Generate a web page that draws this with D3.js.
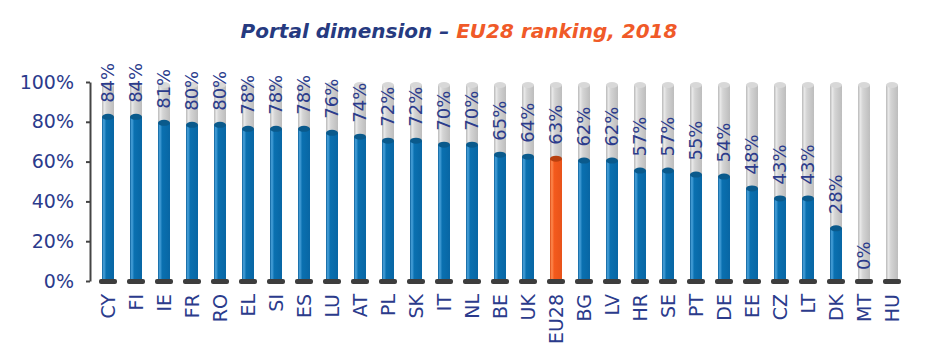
<!DOCTYPE html>
<html><head><meta charset="utf-8">
<script src="https://cdn.jsdelivr.net/npm/d3@7"></script>
<style>body{margin:0;background:#fff}svg{display:block}</style>
</head><body>
<script>
const categories = ["CY","FI","IE","FR","RO","EL","SI","ES","LU","AT","PL","SK","IT","NL","BE","UK","EU28","BG","LV","HR","SE","PT","DE","EE","CZ","LT","DK","MT","HU"];
const values = [84,84,81,80,80,78,78,78,76,74,72,72,70,70,65,64,63,62,62,57,57,55,54,48,43,43,28,0,null];
const yTicks = [0,20,40,60,80,100];
const highlight = "EU28";

const W = 927, H = 358;
const svg = d3.select("body").append("svg").attr("width", W).attr("height", H);
const defs = svg.append("defs");
function grad(id, stops){
  const g = defs.append("linearGradient").attr("id", id).attr("x1","0%").attr("x2","100%").attr("y1","0%").attr("y2","0%");
  stops.forEach(s => g.append("stop").attr("offset", s[0]).attr("stop-color", s[1]));
}
grad("gGray", [["0%","#b8b8b8"],["20%","#e8e8e8"],["40%","#d4d4d4"],["100%","#bdbdbd"]]);
grad("gBlue", [["0%","#0b5f99"],["15%","#4aa3dc"],["35%","#0a70b0"],["100%","#0866a4"]]);
grad("gOrange", [["0%","#d84c14"],["15%","#ff8a50"],["35%","#f45a1c"],["100%","#e8531a"]]);

const y = d3.scaleLinear().domain([0,100]).range([281,82]);
const x = d3.scalePoint().domain(categories).range([108, 108 + 28*(categories.length-1)]);
const bw = 12, eh = 6;

// title
const title = svg.append("text").attr("x", 459).attr("y", 38).attr("text-anchor","middle")
  .style("font-family","DejaVu Sans").style("font-weight","bold").style("font-style","italic").style("font-size","20px");
title.append("tspan").attr("fill","#263a80").text("Portal dimension – ");
title.append("tspan").attr("fill","#f05a28").text("EU28 ranking, 2018");

// y axis
const ax = svg.append("g").attr("transform","translate(90,0)")
  .call(d3.axisLeft(y).tickValues(yTicks).tickSize(4).tickSizeOuter(0).tickFormat(d => d + "%"));
ax.select(".domain").attr("stroke","#444").attr("stroke-width",2);
ax.selectAll(".tick line").attr("stroke","#444").attr("stroke-width",2);
ax.selectAll(".tick text").attr("fill","#2b3b8c").style("font-family","DejaVu Sans").style("font-size","19px").attr("x",-16);

const g = svg.append("g");
categories.forEach((c,i) => {
  const cx = x(c);
  const v = values[i];
  g.append("rect").attr("x", cx-bw/2).attr("y", y(100)+eh/2).attr("width", bw).attr("height", y(0)-y(100)-eh/2).attr("fill","url(#gGray)");
  g.append("ellipse").attr("cx", cx).attr("cy", y(100)+eh/2).attr("rx", bw/2).attr("ry", eh/2).attr("fill","#d8d8d8");
  if (v !== null && v > 0) {
    const hi = c === highlight;
    g.append("rect").attr("x", cx-bw/2).attr("y", y(v)+eh/2).attr("width", bw).attr("height", y(0)-y(v)-eh/2).attr("fill", hi ? "url(#gOrange)" : "url(#gBlue)");
    g.append("ellipse").attr("cx", cx).attr("cy", y(v)+eh/2).attr("rx", bw/2).attr("ry", eh/2).attr("fill", hi ? "#b8400f" : "#0a5a8c");
  }
  g.append("rect").attr("x", cx-9).attr("y", y(0)-2).attr("width", 18).attr("height", 5).attr("rx", 2).attr("fill","#3d3d3d");
  if (v !== null) {
    g.append("text").attr("transform", `translate(${cx},${y(v)-11}) rotate(-90)`).attr("dy","0.36em")
      .attr("text-anchor","start").attr("fill","#2b3b8c").style("font-family","DejaVu Sans").style("font-size","18px")
      .text(v + "%");
  }
  g.append("text").attr("transform", `translate(${cx},294) rotate(-90)`).attr("dy","0.36em")
    .attr("text-anchor","end").attr("fill","#2b3b8c").style("font-family","DejaVu Sans").style("font-size","19px")
    .text(c);
});
</script>
</body></html>
